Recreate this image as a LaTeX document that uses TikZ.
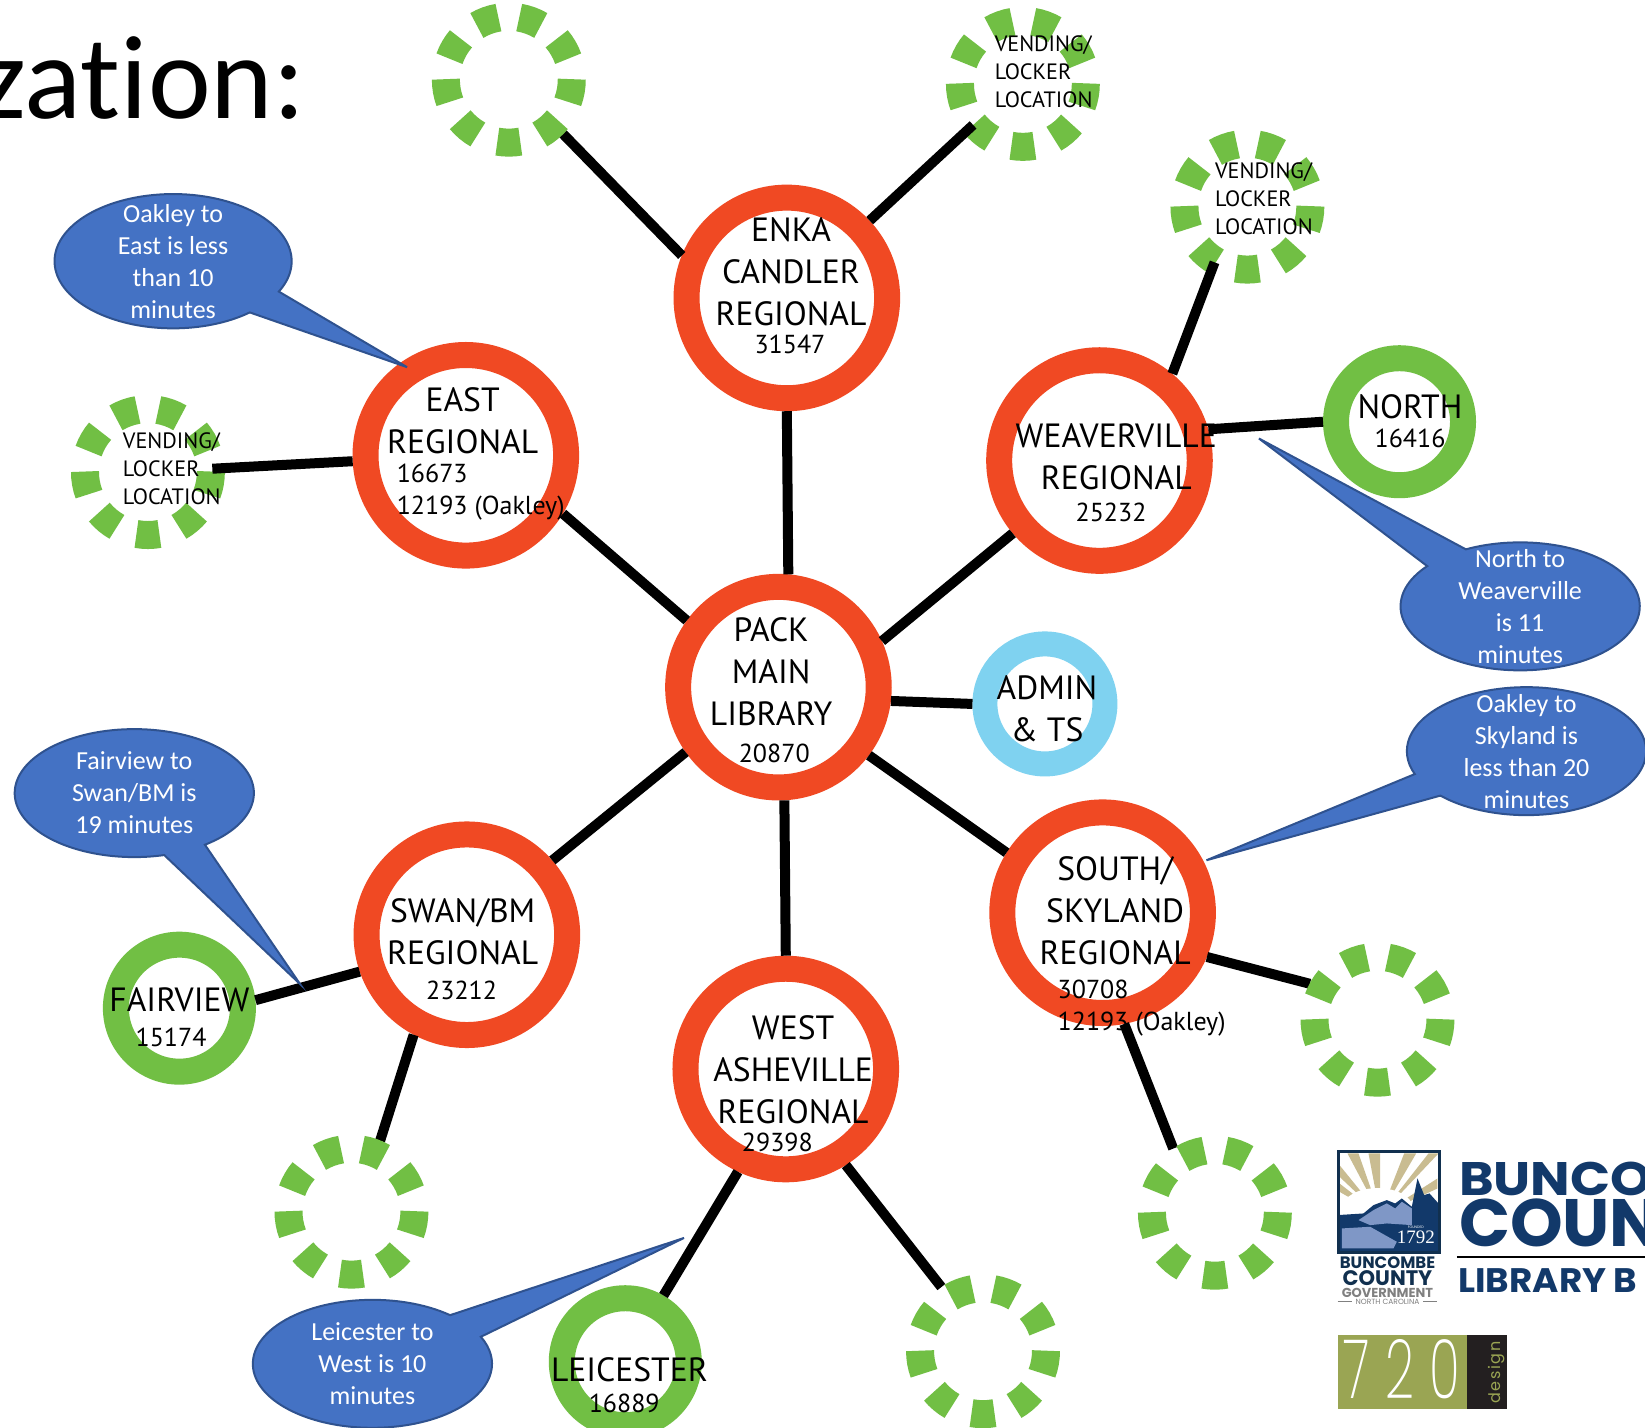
\documentclass[tikz,border=0pt]{standalone}
\usepackage{fontspec}
\setmainfont{PT Sans}
\newfontfamily\calfont{Carlito}
\newfontfamily\logofont{Poppins}[BoldFont=Poppins Bold]
\newfontfamily\thinfont{Poppins ExtraLight}
\newfontfamily\yearfont{Liberation Serif}
\definecolor{ringred}{HTML}{F04923}
\definecolor{ringgreen}{HTML}{71BF44}
\definecolor{ringblue}{HTML}{7FD2F0}
\definecolor{callfill}{HTML}{4472C4}
\definecolor{callline}{HTML}{2F528F}
\definecolor{navy}{HTML}{12396A}
\definecolor{navyd}{HTML}{11304F}
\definecolor{tan}{HTML}{C9BC91}
\definecolor{lake}{HTML}{7F97C6}
\definecolor{olive}{HTML}{9AA553}
\definecolor{ink}{HTML}{231F20}
\tikzset{
  redring/.style={circle,draw=ringred,fill=white,line width=26pt,minimum size=200.6pt,inner sep=0pt},
  greenring/.style={circle,draw=ringgreen,fill=white,line width=26pt,minimum size=127pt,inner sep=0pt},
  bluering/.style={circle,draw=ringblue,fill=white,line width=25pt,minimum size=120pt,inner sep=0pt},
  vnode/.style={circle,minimum size=153pt,inner sep=0pt,outer sep=0pt},
  vdash/.style={draw=ringgreen,line width=28pt},
  link/.style={draw=black,line width=10pt},
  into/.style={shorten <=-12pt},
  big/.style={align=center,font=\fontsize{33.6}{42}\selectfont,inner sep=0pt,text=black},
  num/.style={align=left,font=\fontsize{26}{32.5}\selectfont,inner sep=0pt,text=black},
  vend/.style={align=left,anchor=west,font=\fontsize{22.2}{28}\selectfont,inner sep=0pt,text=black},
  callout/.style={draw=callline,fill=callfill,line width=2pt},
  calltext/.style={align=center,text=white,inner sep=0pt,font=\calfont\fontsize{26}{32}\selectfont},
}
\newcommand{\vdashes}[1]{\foreach \a in {99.5,59.5,19.5,-20.5,-60.5,-100.5,-140.5,179.5,139.5}
  {\draw[vdash] (#1.center) ++(\a:60) arc[start angle=\a,delta angle=21,radius=60];}}
\newcommand{\bubble}[8]{% cx,cy,rx,ry,a1,a2,tipname
  \coordinate (#7) at (#8);
  \draw[callout] (#1,#2) ++(#5:#3 and #4) arc[start angle=#5,end angle=#6,x radius=#3,y radius=#4] -- (#7) -- cycle;}
\begin{document}
\begin{tikzpicture}[x=1.0491pt,y=1.0491pt]
\clip (0,0) rectangle (1568,1361);
\fill[white] (0,0) rectangle (1568,1361);
% title
\node[anchor=base east,inner sep=0pt,font=\calfont\fontsize{119}{119}\selectfont,text=black] (title) at (291,1248) {zat\kern0pt ion:};
% ring nodes
\node[redring] (enka) at (750,1077) {};
\node[redring] (east) at (444,927) {};
\node[redring] (weav) at (1048,922) {};
\node[redring] (pack) at (742,706) {};
\node[redring] (swan) at (445,470) {};
\node[redring] (south) at (1051,491) {};
\node[redring] (west) at (749,342) {};
\node[greenring] (north) at (1334,959) {};
\node[greenring] (fair) at (171,400) {};
\node[greenring] (leic) at (596,63) {};
\node[bluering] (admin) at (996,690) {};
\node[vnode] (va) at (485,1285) {};
\node[vnode] (vb) at (975,1281) {};
\node[vnode] (vc) at (1189,1164) {};
\node[vnode] (vd) at (141,911) {};
\node[vnode] (ve) at (1313,389) {};
\node[vnode] (vf) at (1158,205) {};
\node[vnode] (vg) at (937,73) {};
\node[vnode] (vh) at (335,206) {};
% connectors
\draw[link] (enka.270) -- (pack.85);
\draw[link] (weav.220) -- (pack.24);
\draw[link] (east.-31) -- (pack.144);
\draw[link] (pack.-7.5) -- (admin.180);
\draw[link] (pack.-37) -- (south.148);
\draw[link] (pack.-87) -- (west.90);
\draw[link] (pack.215.5) -- (swan.41.6);
\draw[link] (weav.16) -- (north.180);
\draw[link] (swan.199.6) -- (fair.6.3);
\draw[link] (west.245) -- (leic.60);
\draw[link] (va.-45) -- (enka.158);
\draw[link] (swan.242.7) -- (vh.68);
\draw[link] (south.-23) -- (ve.152);
\draw[link] (south.-79.7) -- (vf.123.7);
\draw[link] (west.-58) -- (vg.123.7);
\vdashes{va}\vdashes{vb}\vdashes{vc}\vdashes{vd}\vdashes{ve}\vdashes{vf}\vdashes{vg}\vdashes{vh}
\draw[link,into] (vb.220) -- (enka.43);
\draw[link,into] (vc.241) -- (weav.50);
\draw[link,into] (vd.3) -- (east.183);
% ring text
\node[big] (t1) at (754,1102) {ENKA\\CANDLER\\REGIONAL};
\node[num] (n1) at (753,1033) {31547};
\node[big] (t2) at (441,960) {EAST\\REGIONAL};
\node[num,anchor=west] (n2) at (378,892) {16673\\12193 (Oakley)};
\node[big] (t3) at (1064,926) {WEAVERVILLE\\REGIONAL};
\node[num] (n3) at (1059,873) {25232};
\node[big] (t4) at (1344,973) {NORTH};
\node[num] (n4) at (1344,943) {16416};
\node[big] (t5) at (735,721) {PACK\\MAIN\\LIBRARY};
\node[num] (n5) at (738,643) {20870};
\node[big] (t6) at (998,685) {ADMIN\\\& TS};
\node[big] (t7) at (441,473) {SWAN/BM\\REGIONAL};
\node[num] (n7) at (440,417) {23212};
\node[big] (t8) at (1063,493) {SOUTH/\\SKYLAND\\REGIONAL};
\node[num,anchor=west] (n8) at (1008,400) {30708\\12193 (Oakley)};
\node[big] (t9) at (756,341) {WEST\\ASHEVILLE\\REGIONAL};
\node[num] (n9) at (741,272) {29398};
\node[big] (t10) at (171,408) {FAIRVIEW};
\node[num] (n10) at (163,372) {15174};
\node[big] (t11) at (600,55) {LEICESTER};
\node[num] (n11) at (595,23) {16889};
\node[vend] (v1) at (948,1293) {VENDING/\\LOCKER\\LOCATION};
\node[vend] (v2) at (1158,1172) {VENDING/\\LOCKER\\LOCATION};
\node[vend] (v3) at (117,914) {VENDING/\\LOCKER\\LOCATION};
% callouts
\bubble{165}{1112}{113}{64}{-26.9}{310.3}{tipa}{388,1011}
\node[calltext] (ca) at (165,1112) {Oakley to\\East is less\\than 10\\minutes};
\bubble{1449}{783}{114}{61}{141}{477}{tipb}{1200,943}
\node[calltext] (cb) at (1449,783) {North to\\Weaverville\\is 11\\minutes};
\bubble{1455}{645}{114}{61}{224}{561}{tipc}{1150,541}
\node[calltext] (cc) at (1455,645) {Oakley to\\Skyland is\\less than 20\\minutes};
\bubble{128}{605}{114}{61}{-53.8}{284.5}{tipd}{286,423}
\node[calltext] (cd) at (128,605) {Fairview to\\Swan/BM is\\19 minutes};
\bubble{355}{61}{114}{61}{49.5}{385}{tipe}{652,181}
\node[calltext] (ce) at (355,61) {Leicester to\\West is 10\\minutes};
% county emblem, in crop pixels
\begin{scope}[shift={(1239.3,293.3)},x=0.3333pt,y=-0.3333pt]
  \begin{scope}
    \clip (112,93) rectangle (420,398);
    \fill[white] (112,93) rectangle (420,398);
    \foreach \p/\q in {142/175,205/240,312/348,385/415}
      {\fill[tan] (\p,100) -- (\q,100) -- (240,285) -- cycle;}
    \fill[tan] (118,135) -- (118,170) -- (240,285) -- cycle;
    \fill[tan] (118,190) -- (118,215) -- (240,285) -- cycle;
    \fill[tan] (412,175) -- (412,205) -- (240,285) -- cycle;
    \fill[white] (232,262) ellipse[x radius=105,y radius=58];
    \fill[navy] (112,285) -- (190,280) -- (220,255) -- (260,240) -- (285,250) -- (305,235) -- (335,260) -- (352,175) -- (372,225) -- (388,220) -- (415,250) -- (415,395) -- (112,395) -- cycle;
    \fill[lake] (175,300) -- (220,270) -- (260,250) -- (285,265) -- (305,245) -- (335,265) -- (335,315) -- (260,310) -- (210,315) -- cycle;
    \fill[lake] (125,325) -- (210,320) -- (290,365) -- (280,385) -- (125,385) -- cycle;
  \end{scope}
  \draw[navyd,line width=3pt] (114,95) rectangle (418,396);
  \node[inner sep=0pt,text=white,font=\yearfont\fontsize{19}{19}\selectfont] (year) at (347,352) {1792};
  \node[inner sep=0pt,text=white,font=\logofont\fontsize{3.5}{3.5}\selectfont] (founded) at (347,320) {FOUNDED};
  \node[inner sep=0pt,text=navyd,font=\logofont\bfseries\fontsize{16.5}{16.5}\selectfont] (cg1) at (262,428) {BUNCOMBE};
  \node[inner sep=0pt,text=navyd,font=\logofont\bfseries\fontsize{21}{21}\selectfont] (cg2) at (262,473) {COUNTY};
  \node[inner sep=0pt,text=gray,font=\logofont\bfseries\fontsize{13}{13}\selectfont] (cg3) at (262,517) {GOVERNMENT};
  \node[inner sep=0pt,text=gray,font=\logofont\fontsize{7.5}{7.5}\selectfont] (cg4) at (262,544) {NORTH CAROLINA};
  \draw[gray,line width=1pt] (112,544) -- (155,544) (370,544) -- (412,544);
  \draw[black,line width=2.5pt] (470,410) -- (1035,410);
  \node[anchor=base west,inner sep=0pt,xscale=1.12,text=navy,font=\logofont\bfseries\fontsize{47}{47}\selectfont] (lb1) at (476,225) {BUNCOMBE};
  \node[anchor=base west,inner sep=0pt,text=navy,font=\logofont\bfseries\fontsize{67}{67}\selectfont] (lb2) at (476,380) {COUNTY};
  \node[anchor=base west,inner sep=0pt,xscale=1.05,text=navy,font=\logofont\bfseries\fontsize{34}{34}\selectfont] (lb3) at (474,518) {LIBRARY B};
  \fill[olive] (113,645) rectangle (502,868);
  \fill[ink] (502,645) rectangle (620,868);
  \node[anchor=base west,inner sep=0pt,xscale=.62,text=white,font=\thinfont\fontsize{82}{82}\selectfont] (d720) at (130,835) {7\hspace{25pt}2\hspace{25pt}0};
  \node[rotate=90,inner sep=0pt,text=olive,font=\logofont\fontsize{16}{16}\selectfont\addfontfeatures{LetterSpace=10}] (dsg) at (590,757) {design};
\end{scope}
\end{tikzpicture}
\end{document}
